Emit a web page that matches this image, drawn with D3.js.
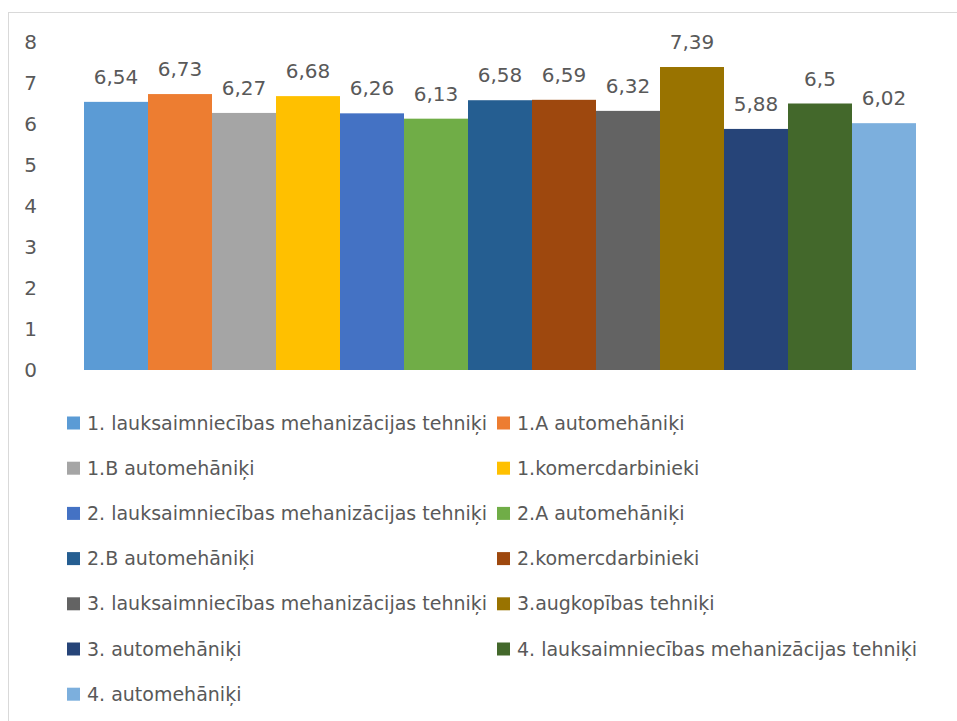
<!DOCTYPE html>
<html>
  <head>
    <meta charset="utf-8" />
    <title>Bar Chart</title>
    <script src="https://d3js.org/d3.v7.min.js"></script>
    <style>
        body {
            margin: 0;
            background: #fff;
        }
        text {
            font-family: "DejaVu Sans", sans-serif;
            fill: #595959;
        }
    </style>
  </head>
  <body>
    <svg id="barChart">
        <g id="shapes"></g>
        <g id="labels"></g>
        <g id="y"></g>
        <g id="legend"></g>
    </svg>

    <script>
        // chart data
        var categories = [
            "1. lauksaimniecības mehanizācijas tehniķi",
            "1.A automehāniķi",
            "1.B automehāniķi",
            "1.komercdarbinieki",
            "2. lauksaimniecības mehanizācijas tehniķi",
            "2.A automehāniķi",
            "2.B automehāniķi",
            "2.komercdarbinieki",
            "3. lauksaimniecības mehanizācijas tehniķi",
            "3.augkopības tehniķi",
            "3. automehāniķi",
            "4. lauksaimniecības mehanizācijas tehniķi",
            "4. automehāniķi"
        ];
        var values = [6.54, 6.73, 6.27, 6.68, 6.26, 6.13, 6.58, 6.59, 6.32, 7.39, 5.88, 6.5, 6.02];
        var yTicks = [0, 1, 2, 3, 4, 5, 6, 7, 8];
        var colors = ["#5B9BD5", "#ED7D31", "#A5A5A5", "#FFC000", "#4472C4", "#70AD47",
                      "#255E91", "#9E480E", "#636363", "#997300", "#264478", "#43682B", "#7CAFDD"];

        var width = 957;
        var height = 721;

        var svg = d3.select("#barChart").attr("width", width).attr("height", height);

        // outer frame
        svg.insert("rect", ":first-child")
            .attr("x", 8.5).attr("y", 12.5)
            .attr("width", 960).attr("height", 730)
            .attr("fill", "none")
            .attr("stroke", "#D9D9D9")
            .attr("stroke-width", 1);

        var x = d3.scaleBand()
            .domain(categories)
            .range([84, 916])
            .padding(0);

        var y = d3.scaleLinear()
            .domain([0, 8])
            .range([370, 42]);

        var fmt = function(v) { return String(v).replace(".", ","); };

        // bars
        svg.select("#shapes").selectAll(".bar")
            .data(values)
            .enter().append("rect")
            .attr("class", "bar")
            .attr("x", function(d, i) { return x(categories[i]); })
            .attr("width", x.bandwidth())
            .attr("y", function(d) { return y(d); })
            .attr("height", function(d) { return y(0) - y(d); })
            .attr("fill", function(d, i) { return colors[i]; });

        // value labels
        svg.select("#labels").selectAll("text")
            .data(values)
            .enter().append("text")
            .attr("x", function(d, i) { return x(categories[i]) + x.bandwidth() / 2; })
            .attr("y", function(d) { return y(d) - 18; })
            .attr("text-anchor", "middle")
            .style("font-size", "20px")
            .text(fmt);

        // y axis (labels only)
        var yAxis = d3.axisLeft(y).tickValues(yTicks).tickSize(0).tickPadding(0);
        var gy = svg.select("#y").attr("transform", "translate(37,0)").call(yAxis);
        gy.select(".domain").remove();
        gy.selectAll("text")
            .attr("fill", "#595959")
            .style("font-family", "DejaVu Sans, sans-serif")
            .style("font-size", "20px");

        // legend, two columns
        var legend = svg.select("#legend").selectAll("g")
            .data(categories)
            .enter().append("g")
            .attr("transform", function(d, i) {
                var col = i % 2, row = Math.floor(i / 2);
                return "translate(" + (col ? 497 : 67) + "," + (423 + row * 45.2) + ")";
            });

        legend.append("rect")
            .attr("x", 0).attr("y", -6.5)
            .attr("width", 13).attr("height", 13)
            .attr("fill", function(d, i) { return colors[i]; });

        legend.append("text")
            .attr("x", 20)
            .attr("dy", "0.35em")
            .style("font-size", "19px")
            .text(function(d) { return d; });
    </script>
  </body>
</html>
